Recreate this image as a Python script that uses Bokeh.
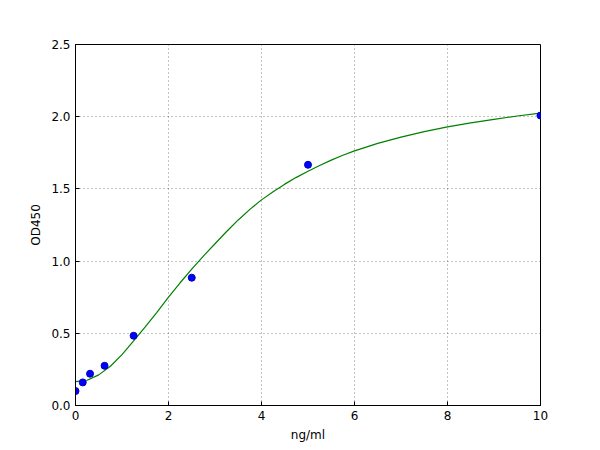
from bokeh.plotting import figure
from bokeh.embed import file_html
from bokeh.resources import INLINE
from bokeh.models import Range1d, FixedTicker

# measured standards
conc = [0.0, 0.156, 0.3125, 0.625, 1.25, 2.5, 5.0, 10.0]
od = [0.10, 0.16, 0.22, 0.275, 0.483, 0.885, 1.667, 2.008]

# fitted curve
curve_x = [0, 0.25, 0.5, 0.75, 1, 1.25, 1.5, 1.75, 2, 2.25, 2.5, 2.75, 3, 3.25,
           3.5, 3.75, 4, 4.25, 4.5, 4.75, 5, 5.25, 5.5, 5.75, 6, 6.5, 7, 7.5,
           8, 8.5, 9, 9.5, 10]
curve_y = [0.165, 0.175, 0.212, 0.272, 0.352, 0.447, 0.545, 0.645, 0.75, 0.85,
           0.945, 1.035, 1.12, 1.205, 1.285, 1.358, 1.424, 1.481, 1.533, 1.58,
           1.622, 1.662, 1.699, 1.733, 1.763, 1.815, 1.859, 1.897, 1.93, 1.957,
           1.982, 2.005, 2.025]

x_ticks = [0, 2, 4, 6, 8, 10]
y_ticks = [0.0, 0.5, 1.0, 1.5, 2.0, 2.5]
y_labels = {0.0: "0.0", 0.5: "0.5", 1.0: "1.0", 1.5: "1.5", 2.0: "2.0", 2.5: "2.5"}

p = figure(output_backend="svg", toolbar_location=None,
           frame_width=465, frame_height=361,
           min_border_left=75, min_border_right=52,
           min_border_top=44, min_border_bottom=37,
           x_range=Range1d(0, 10), y_range=Range1d(0, 2.5))
p.background_fill_color = "white"
p.border_fill_color = "white"
p.outline_line_color = "black"
p.outline_line_width = 1

font = "DejaVu Sans"
for ax in p.xaxis + p.yaxis:
    ax.major_tick_in = 4
    ax.major_tick_out = 0
    ax.minor_tick_in = 0
    ax.minor_tick_out = 0
    ax.axis_line_color = "black"
    ax.major_label_text_font = font
    ax.major_label_text_font_size = "12px"
    ax.major_label_text_color = "black"
    ax.axis_label_text_font = font
    ax.axis_label_text_font_size = "12px"
    ax.axis_label_text_font_style = "normal"
    ax.axis_label_text_color = "black"

p.xaxis.ticker = FixedTicker(ticks=x_ticks)
p.yaxis.ticker = FixedTicker(ticks=y_ticks)
p.yaxis.major_label_overrides = y_labels
p.xaxis.axis_label = "ng/ml"
p.yaxis.axis_label = "OD450"
p.xaxis.axis_label_standoff = 5
p.yaxis.axis_label_standoff = 5
p.xaxis.major_label_standoff = 5
p.yaxis.major_label_standoff = 5

for g in (p.xgrid, p.ygrid):
    g.grid_line_color = "black"
    g.grid_line_alpha = 0.6
    g.grid_line_dash = "1 3"
    g.grid_line_width = 0.8
p.xgrid.ticker = FixedTicker(ticks=x_ticks)
p.ygrid.ticker = FixedTicker(ticks=y_ticks)

p.line(curve_x, curve_y, line_color="#008000", line_width=1.2)
p.scatter(conc, od, size=7, fill_color="#0000ff", line_color="#0000bf")

open("out.html", "w").write(file_html(p, INLINE))
